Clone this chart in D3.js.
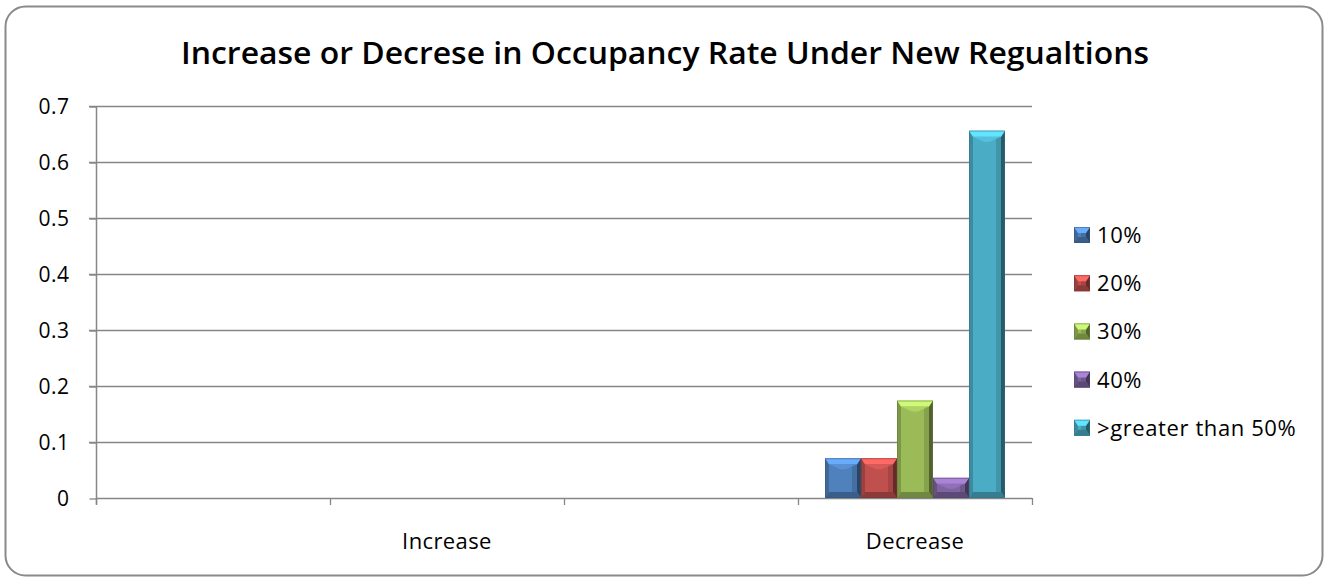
<!DOCTYPE html>
<html>
<head>
<meta charset="utf-8">
<script src="https://cdn.jsdelivr.net/npm/d3@7"></script>
<style>
  html, body { margin: 0; padding: 0; background: #fff; }
  svg { display: block; }
  text { font-family: "Open Sans", Lato, sans-serif; fill: #000; }
</style>
</head>
<body>
<svg id="chart" width="1330" height="578"></svg>
<script>
// Chart data
const title = "Increase or Decrese in Occupancy Rate Under New Regualtions";
const categories = ["", "Increase", "", "Decrease"];
const seriesNames = ["10%", "20%", "30%", "40%", ">greater than 50%"];
const seriesColors = ["#4F81BD", "#C0504D", "#9BBB59", "#8064A2", "#4BACC6"];
// one row per series, one entry per category (null = blank row)
const values10 = [null, 0, null, 0.071];
const values20 = [null, 0, null, 0.071];
const values30 = [null, 0, null, 0.174];
const values40 = [null, 0, null, 0.036];
const values50 = [null, 0, null, 0.656];
const seriesValues = [values10, values20, values30, values40, values50];
const yTicks = [0, 0.1, 0.2, 0.3, 0.4, 0.5, 0.6, 0.7];

const svg = d3.select("#chart");
const labelFont = "'Open Sans', Lato, sans-serif";

// Outer chart frame
svg.append("rect")
  .attr("x", 5.5).attr("y", 6.5)
  .attr("width", 1317).attr("height", 569)
  .attr("rx", 20).attr("ry", 20)
  .attr("fill", "#fff")
  .attr("stroke", "#8a8a8a").attr("stroke-width", 2);

// Title
svg.append("text")
  .attr("x", 665).attr("y", 64)
  .attr("text-anchor", "middle")
  .attr("font-size", 30)
  .attr("font-weight", 600)
  .attr("textLength", 968)
  .attr("lengthAdjust", "spacingAndGlyphs")
  .text(title);

const plot = { left: 96, right: 1032, top: 106, bottom: 498 };

const x = d3.scaleBand()
  .domain(d3.range(categories.length))
  .range([plot.left, plot.right])
  .paddingInner(0).paddingOuter(0);

const y = d3.scaleLinear()
  .domain([0, 0.7])
  .range([plot.bottom, plot.top]);

const x1 = d3.scaleBand()
  .domain(d3.range(seriesNames.length))
  .range([0, x.bandwidth()])
  .paddingOuter(0.75)
  .paddingInner(0);

// Gridlines
svg.append("g")
  .selectAll("line")
  .data(yTicks.slice(1))
  .join("line")
  .attr("x1", plot.left - 7).attr("x2", plot.right)
  .attr("y1", d => Math.round(y(d)) + 0.5)
  .attr("y2", d => Math.round(y(d)) + 0.5)
  .attr("stroke", "#868686").attr("stroke-width", 1.3);

// Y axis
const yAxis = d3.axisLeft(y)
  .tickValues(yTicks)
  .tickSize(7)
  .tickPadding(20)
  .tickFormat(d => d === 0 ? "0" : d3.format(".1f")(d));
const gy = svg.append("g")
  .attr("transform", `translate(${plot.left + 0.5},0.5)`)
  .call(yAxis);
gy.select(".domain").attr("stroke", "#868686").attr("stroke-width", 1.5)
  .attr("d", `M0,${plot.top}V${plot.bottom + 6}`);
gy.selectAll(".tick line").attr("stroke", "#868686").attr("stroke-width", 1.3);
gy.selectAll(".tick text")
  .attr("font-size", 21)
  .attr("letter-spacing", 0.5)
  .attr("font-family", labelFont)
  .attr("fill", "#000");

// X axis: ticks at category boundaries, labels centred in bands
const boundaries = d3.range(categories.length + 1).map(i => plot.left + i * x.bandwidth());
const gx = svg.append("g");
gx.append("line")
  .attr("x1", plot.left).attr("x2", plot.right)
  .attr("y1", plot.bottom + 0.5).attr("y2", plot.bottom + 0.5)
  .attr("stroke", "#868686").attr("stroke-width", 1.5);
gx.selectAll("line.tick")
  .data(boundaries)
  .join("line")
  .attr("class", "tick")
  .attr("x1", d => Math.round(d) + 0.5).attr("x2", d => Math.round(d) + 0.5)
  .attr("y1", plot.bottom).attr("y2", plot.bottom + 7)
  .attr("stroke", "#868686").attr("stroke-width", 1.3);
gx.selectAll("text")
  .data(categories)
  .join("text")
  .attr("x", (d, i) => x(i) + x.bandwidth() / 2)
  .attr("y", 549)
  .attr("text-anchor", "middle")
  .attr("font-size", 22)
  .attr("letter-spacing", 0.4)
  .text(d => d);

// Bevelled bar drawing
function bevelBar(g, bx, by, bw, bh, color) {
  if (bh <= 0) return;
  const c = d3.color(color);
  const b = Math.min(6, bh / 2, bw / 2);
  const s = Math.min(4, bw / 2);
  const face = g.append("g");
  face.append("rect").attr("x", bx).attr("y", by).attr("width", bw).attr("height", bh)
    .attr("fill", c.formatHex());
  // left side
  face.append("polygon")
    .attr("points", [[bx, by], [bx + s, by + b], [bx + s, by + bh - b], [bx, by + bh]].join(" "))
    .attr("fill", c.darker(0.6).formatHex());
  // right side
  face.append("polygon")
    .attr("points", [[bx + bw, by], [bx + bw, by + bh], [bx + bw - s, by + bh - b], [bx + bw - s, by + b]].join(" "))
    .attr("fill", c.darker(1.8).formatHex());
  // inner right shading
  face.append("rect")
    .attr("x", bx + bw - s - 5).attr("y", by + b).attr("width", 5).attr("height", Math.max(0, bh - 2 * b))
    .attr("fill", c.darker(0.6).formatHex()).attr("opacity", 0.7);
  // top bevel
  face.append("polygon")
    .attr("points", [[bx, by], [bx + bw, by], [bx + bw - s, by + b], [bx + s, by + b]].join(" "))
    .attr("fill", c.brighter(0.8).formatHex());
  face.append("polygon")
    .attr("points", [[bx + s, by + b], [bx + bw - s, by + b], [bx + bw / 2 + 3, by + b + 5], [bx + bw / 2 - 3, by + b + 5]].join(" "))
    .attr("fill", c.brighter(0.4).formatHex()).attr("opacity", bh > 20 ? 0.8 : 0);
  // bottom bevel
  face.append("polygon")
    .attr("points", [[bx, by + bh], [bx + bw, by + bh], [bx + bw - s, by + bh - b], [bx + s, by + bh - b]].join(" "))
    .attr("fill", c.darker(0.9).formatHex());
  // outline
  face.append("rect").attr("x", bx + 0.5).attr("y", by + 0.5).attr("width", bw - 1).attr("height", bh - 1)
    .attr("fill", "none").attr("stroke", c.darker(1.2).formatHex()).attr("stroke-opacity", 0.5);
}

const bars = svg.append("g");
seriesValues.forEach((vals, si) => {
  vals.forEach((v, ci) => {
    if (v === null) return;
    const bx = x(ci) + x1(si);
    const bw = x1.bandwidth();
    const by = y(v);
    bevelBar(bars, bx, by, bw, y(0) - by, seriesColors[si]);
  });
});

// Legend
const legend = svg.append("g").attr("transform", "translate(1074,235)");
const item = legend.selectAll("g")
  .data(seriesNames)
  .join("g")
  .attr("transform", (d, i) => `translate(0,${i * 48.2})`);
item.each(function (d, i) {
  bevelBar(d3.select(this), 0, -8, 16, 16, seriesColors[i]);
});
item.append("text")
  .attr("x", 23).attr("y", 8)
  .attr("font-size", 22)
  .attr("letter-spacing", 0.6)
  .text(d => d);
</script>
</body>
</html>
